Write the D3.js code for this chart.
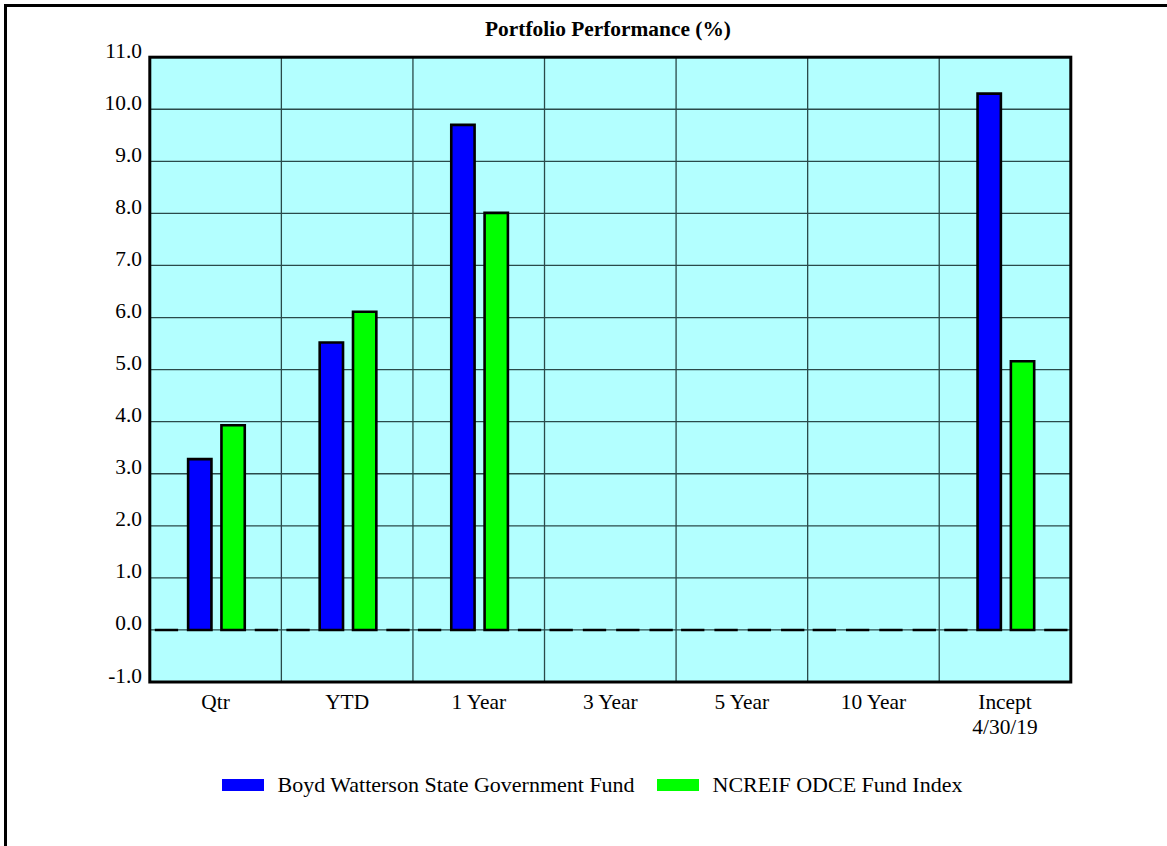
<!DOCTYPE html>
<html>
<head>
<meta charset="utf-8">
<script src="https://cdn.jsdelivr.net/npm/d3@7"></script>
<style>
  html, body { margin: 0; padding: 0; background: #ffffff; }
  svg { display: block; }
  text { font-family: "Liberation Serif", "Times New Roman", serif; fill: #000; }
</style>
</head>
<body>
<svg id="chart" width="1167" height="846"></svg>
<script>
// Periods shown along the x axis (multi-line labels split on "\n")
const categories = ["Qtr", "YTD", "1 Year", "3 Year", "5 Year", "10 Year", "Incept\n4/30/19"];

// Returns (%) per period
const fundValues  = [3.28, 5.52, 9.70, 0, 0, 0, 10.30];   // Boyd Watterson State Government Fund
const indexValues = [3.93, 6.11, 8.01, 0, 0, 0, 5.16];    // NCREIF ODCE Fund Index
// Two unused slots the charting template reserves around the pair of series
const blankLeft   = [0, 0, 0, 0, 0, 0, 0];
const blankRight  = [0, 0, 0, 0, 0, 0, 0];

const yTicks = [-1, 0, 1, 2, 3, 4, 5, 6, 7, 8, 9, 10, 11];

const seriesNames = ["Boyd Watterson State Government Fund", "NCREIF ODCE Fund Index"];
const seriesColors = ["#0000ff", "#00ff00"];

const title = "Portfolio Performance (%)";

const FONT = "21.4px";
const svg = d3.select("#chart");

// Outer frame (runs off the right and bottom edges)
svg.append("rect")
  .attr("x", 5.5).attr("y", 5.5)
  .attr("width", 1200).attr("height", 900)
  .attr("fill", "#fff").attr("stroke", "#000").attr("stroke-width", 3);

const plot = { left: 149.8, right: 1070.8, top: 57.2, bottom: 682 };

const x0 = d3.scaleBand().domain(d3.range(categories.length))
  .range([plot.left, plot.right]).padding(0);
const slots = [0, 1, 2, 3];
const x1 = d3.scaleBand().domain(slots)
  .range([0, x0.bandwidth() * 1.013]).paddingInner(0.3).paddingOuter(0.15);
const y = d3.scaleLinear().domain([-1, 11]).range([plot.bottom, plot.top]);

// Plot background
svg.append("rect")
  .attr("x", plot.left).attr("y", plot.top)
  .attr("width", plot.right - plot.left).attr("height", plot.bottom - plot.top)
  .attr("fill", "#b3ffff");

// Horizontal grid lines
svg.append("g").selectAll("line").data(yTicks).join("line")
  .attr("x1", plot.left).attr("x2", plot.right)
  .attr("y1", d => y(d)).attr("y2", d => y(d))
  .attr("stroke", "#2a4a4a").attr("stroke-width", 1.3);

// Vertical separators between periods
svg.append("g").selectAll("line").data(d3.range(1, categories.length)).join("line")
  .attr("x1", d => x0(d)).attr("x2", d => x0(d))
  .attr("y1", plot.top).attr("y2", plot.bottom)
  .attr("stroke", "#2a4a4a").attr("stroke-width", 1.3);

// Bars: four slots per period, the two outer ones are always empty
const slotSeries = [blankLeft, fundValues, indexValues, blankRight];
const slotColors = ["none", seriesColors[0], seriesColors[1], "none"];
const barData = [];
categories.forEach((c, i) => {
  slotSeries.forEach((vals, s) => barData.push({ cat: i, slot: s, value: vals[i] }));
});

svg.append("g").selectAll("path").data(barData).join("path")
  .attr("d", d => {
    const xa = x0(d.cat) + x1(d.slot);
    const w = x1.bandwidth();
    const y0 = y(0), yv = y(d.value);
    return `M${xa},${y0}V${yv}H${xa + w}V${y0}Z`;
  })
  .attr("fill", d => slotColors[d.slot])
  .attr("stroke", "#000").attr("stroke-width", 2.6)
  .attr("stroke-linejoin", "miter");

// Plot border
svg.append("rect")
  .attr("x", plot.left).attr("y", plot.top)
  .attr("width", plot.right - plot.left).attr("height", plot.bottom - plot.top)
  .attr("fill", "none").attr("stroke", "#000").attr("stroke-width", 3);

// Y axis labels (baseline sits on the grid line), plain hyphen for negatives
const fmt = d => d3.format(".1f")(d).replace("\u2212", "-");
svg.append("g").selectAll("text").data(yTicks).join("text")
  .attr("x", 142).attr("y", d => y(d) + 0.5)
  .attr("text-anchor", "end")
  .style("font-size", FONT)
  .text(fmt);

// Category labels
const catG = svg.append("g").selectAll("text").data(categories).join("text")
  .attr("text-anchor", "middle")
  .style("font-size", FONT);
catG.each(function(d, i) {
  const lines = d.split("\n");
  d3.select(this).selectAll("tspan").data(lines).join("tspan")
    .attr("x", x0(i) + x0.bandwidth() / 2)
    .attr("y", (l, k) => 709 + k * 24.5)
    .text(l => l);
});

// Title
svg.append("text")
  .attr("x", 608).attr("y", 36)
  .attr("text-anchor", "middle")
  .style("font-size", FONT).style("font-weight", "bold")
  .text(title);

// Legend
const legendItems = [
  { name: seriesNames[0], color: seriesColors[0], x: 222 },
  { name: seriesNames[1], color: seriesColors[1], x: 657 }
];
const lg = svg.append("g").selectAll("g").data(legendItems).join("g")
  .attr("transform", d => `translate(${d.x},779)`);
lg.append("rect").attr("width", 42).attr("height", 12).attr("fill", d => d.color);
lg.append("text").attr("x", 55.5).attr("y", 12.5)
  .style("font-size", "22px")
  .text(d => d.name);
</script>
</body>
</html>
